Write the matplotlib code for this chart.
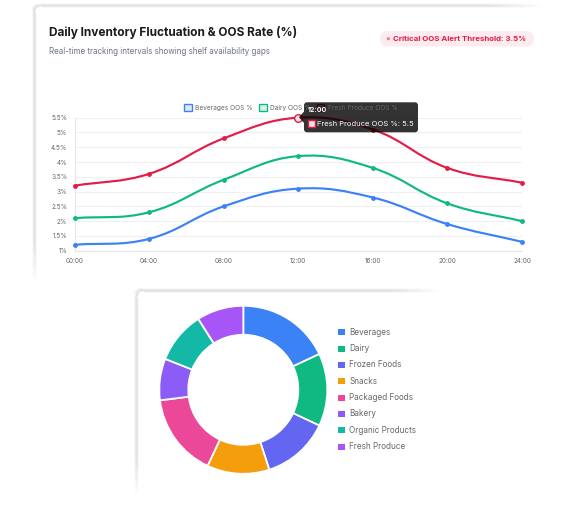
import numpy as np
import matplotlib
matplotlib.use('Agg')
import matplotlib.pyplot as plt
from matplotlib.patches import FancyBboxPatch, Rectangle, Polygon, Circle, PathPatch
from matplotlib.path import Path
from matplotlib.collections import LineCollection

plt.rcParams['font.family'] = ['Inter', 'DejaVu Sans']

# ---------------- data ----------------
hours = [0, 4, 8, 12, 16, 20, 24]
x_tick_labels = ['00:00', '04:00', '08:00', '12:00', '16:00', '20:00', '24:00']
beverages_oos = [1.2, 1.4, 2.5, 3.1, 2.8, 1.9, 1.3]
dairy_oos = [2.1, 2.3, 3.4, 4.2, 3.8, 2.6, 2.0]
fresh_produce_oos = [3.2, 3.6, 4.8, 5.5, 5.1, 3.8, 3.3]
series_names = ['Beverages OOS %', 'Dairy OOS %', 'Fresh Produce OOS %']
y_ticks = [1, 1.5, 2, 2.5, 3, 3.5, 4, 4.5, 5, 5.5]
y_tick_labels = ['1%', '1.5%', '2%', '2.5%', '3%', '3.5%', '4%', '4.5%', '5%', '5.5%']
threshold_label = 'Critical OOS Alert Threshold: 3.5%'
title = 'Daily Inventory Fluctuation & OOS Rate (%)'
subtitle = 'Real-time tracking intervals showing shelf availability gaps'
tooltip_index = 3  # 12:00, Fresh Produce

categories = ['Beverages', 'Dairy', 'Frozen Foods', 'Snacks', 'Packaged Foods',
              'Bakery', 'Organic Products', 'Fresh Produce']
category_share = [18, 14, 13, 12, 16, 8, 10, 9]

# ---------------- style ----------------
line_colors = ['#3b82f6', '#10b981', '#e11d48']
legend_fills = ['#dfe7f5', '#d8efe6', '#f5dde3']
donut_colors = ['#3b82f6', '#10b981', '#6366f1', '#f59e0b', '#ec4899',
                '#8b5cf6', '#14b8a6', '#a855f7']

W, H = 585, 505
fig = plt.figure(figsize=(W / 100, H / 100), dpi=100)
fig.patch.set_facecolor('white')
renderer = fig.canvas.get_renderer()

bg = fig.add_axes([0, 0, 1, 1], zorder=0)
bg.set_xlim(0, W); bg.set_ylim(H, 0); bg.axis('off')
fg = fig.add_axes([0, 0, 1, 1], zorder=10)
fg.set_xlim(0, W); fg.set_ylim(H, 0); fg.axis('off')
fg.patch.set_alpha(0)


def fit_text(ax, x0, x1, y, s, size=8, **kw):
    t = ax.text(x0, y, s, ha='left', va='center', fontsize=size, **kw)
    w = t.get_window_extent(renderer=renderer).width
    t.set_fontsize(size * (x1 - x0) / w)
    return t


def text_size_for(s, width, size=8, **kw):
    t = fig.text(0, 0, s, fontsize=size, **kw)
    w = t.get_window_extent(renderer=renderer).width
    t.remove()
    return size * width / w


def card_edge(ax, x0, y0, x_end, y_end, r=6, fade_a=45, fade_b=45):
    pts = []
    for y in np.linspace(y_end, y0 + r, 200):
        pts.append((x0, y))
    for th in np.linspace(np.pi, 1.5 * np.pi, 20):
        pts.append((x0 + r + r * np.cos(th), y0 + r + r * np.sin(th)))
    for x in np.linspace(x0 + r, x_end, 200):
        pts.append((x, y0))
    pts = np.array(pts)
    seg = np.hypot(np.diff(pts[:, 0]), np.diff(pts[:, 1]))
    s = np.concatenate([[0], np.cumsum(seg)])
    L = s[-1]
    mid = (s[:-1] + s[1:]) / 2
    a = np.clip(np.minimum(mid / fade_a, (L - mid) / fade_b), 0, 1)
    for off, alpha, lw in [(0, 0.13, 1.0), (1.0, 0.07, 1.4), (2.0, 0.035, 1.8)]:
        p = pts - off
        segs = np.stack([p[:-1], p[1:]], axis=1)
        cols = np.zeros((len(segs), 4))
        cols[:, :3] = 0.2
        cols[:, 3] = alpha * a
        ax.add_collection(LineCollection(segs, colors=cols, linewidths=lw, capstyle='butt'))


card_edge(bg, 34.5, 6, 545, 283, fade_a=40, fade_b=55)
card_edge(bg, 137, 290.5, 442, 496, fade_a=35, fade_b=50)

# ---------------- header ----------------
fit_text(bg, 49, 299, 32.5, title, fontweight='bold', color='#1a1a1a')
fit_text(bg, 49, 271, 51.5, subtitle, color='#6b7280')
bg.add_patch(FancyBboxPatch((380, 31), 154, 15.5,
                            boxstyle='round,pad=0,rounding_size=7.75',
                            fc='#fdecef', ec='none'))
bg.add_patch(Circle((388.3, 38.7), 1.6, fc='#f27a94', ec='none'))
fit_text(bg, 393, 527, 38.7, threshold_label, fontweight='bold', color='#e11d48')

# ---------------- line chart ----------------
X0, X1, Y0, Y1 = 74.5, 522, 117.7, 250.7
ax = fig.add_axes([X0 / W, 1 - Y1 / H, (X1 - X0) / W, (Y1 - Y0) / H], zorder=5)
ax.patch.set_alpha(0)
ax.set_xlim(0, 24)
ax.set_ylim(1, 5.5)
sx = (X1 - X0) / 24.0
sy = (Y1 - Y0) / 4.5


def spline_path(xs, ys, t=0.4):
    P = np.column_stack([np.array(xs, float) * sx, np.array(ys, float) * sy])
    n = len(P)
    prev_cp = P.copy(); next_cp = P.copy()
    for i in range(n):
        pr = P[i - 1] if i > 0 else P[i]
        nx = P[i + 1] if i < n - 1 else P[i]
        d01 = np.hypot(*(P[i] - pr)); d12 = np.hypot(*(nx - P[i]))
        tot = d01 + d12
        s01 = d01 / tot if tot else 0; s12 = d12 / tot if tot else 0
        prev_cp[i] = P[i] - t * s01 * (nx - pr)
        next_cp[i] = P[i] + t * s12 * (nx - pr)
    verts = [P[0]]; codes = [Path.MOVETO]
    for i in range(n - 1):
        verts += [next_cp[i], prev_cp[i + 1], P[i + 1]]
        codes += [Path.CURVE4] * 3
    V = np.array(verts); V[:, 0] /= sx; V[:, 1] /= sy
    return Path(V, codes)


all_series = [beverages_oos, dairy_oos, fresh_produce_oos]
for vals, c in zip(all_series, line_colors):
    ax.add_patch(PathPatch(spline_path(hours, vals), fc='none', ec=c, lw=1.55,
                           zorder=3, clip_on=False, capstyle='round'))
    ax.plot(hours, vals, 'o', ms=2.8, color=c, mec=c, mew=0.6, zorder=4, clip_on=False)
ax.plot([hours[tooltip_index]], [fresh_produce_oos[tooltip_index]], 'o', ms=5.5,
        mfc='#fbe3e9', mec=line_colors[2], mew=1.0, zorder=5, clip_on=False)

ax.set_xticks(hours)
ax.set_xticklabels(x_tick_labels)
ax.set_yticks(y_ticks)
ax.set_yticklabels(y_tick_labels)
ax.yaxis.grid(True, color='#f0f0f0', lw=0.8)
ax.set_axisbelow(True)
for sp in ['top', 'right']:
    ax.spines[sp].set_visible(False)
for sp in ['left', 'bottom']:
    ax.spines[sp].set_color('#e6e6e6')
    ax.spines[sp].set_linewidth(0.8)
tick_size = text_size_for('00:00', 18.0)
ax.tick_params(axis='both', length=0, labelsize=tick_size, labelcolor='#666666')
ax.tick_params(axis='y', pad=5.2)
ax.tick_params(axis='x', pad=5.0)

# legend for line chart
leg_size = text_size_for('Beverages OOS %', 56.7)
leg_boxes = [184, 259.3, 316.7]
for bx, name, c, f in zip(leg_boxes, series_names, line_colors, legend_fills):
    fg.add_patch(Rectangle((bx, 103.8), 7.5, 7.5, fc=f, ec=c, lw=1.0))
    fg.text(bx + 11, 107.6, name, ha='left', va='center', fontsize=leg_size, color='#666666')

# tooltip
fg.add_patch(FancyBboxPatch((304, 102.3), 114, 30,
                            boxstyle='round,pad=0,rounding_size=3',
                            fc='black', ec='none', alpha=0.8))
fg.add_patch(Polygon([(304, 111.5), (298.8, 117.3), (304, 123)], closed=True,
                     fc='black', ec='none', alpha=0.8))
fit_text(fg, 307.7, 326.7, 110.3, x_tick_labels[tooltip_index], fontweight='bold', color='white')
fg.add_patch(Rectangle((308, 120.2), 7, 7, fc='#e6e6e6', ec=line_colors[2], lw=1.0))
fit_text(fg, 317, 414, 124.2,
         f'{series_names[2]}: {fresh_produce_oos[tooltip_index]}', color='white')

# ---------------- donut ----------------
cx, cy, R = 243.3, 389.8, 84
ax2 = fig.add_axes([(cx - R) / W, 1 - (cy + R) / H, 2 * R / W, 2 * R / H], zorder=5)
ax2.pie(category_share, colors=donut_colors, startangle=90, counterclock=False,
        radius=1, wedgeprops=dict(width=0.345, edgecolor='white', linewidth=1.3))
ax2.set_xlim(-1, 1); ax2.set_ylim(-1, 1)
ax2.set_aspect('equal')
ax2.axis('off')

dl_size = text_size_for('Beverages', 41)
for i, (name, c) in enumerate(zip(categories, donut_colors)):
    yy = 332.3 + i * 16.34
    bg.add_patch(Rectangle((338.3, yy - 3.1), 6.2, 6.2, fc=c, ec='none'))
    bg.text(349.3, yy, name, ha='left', va='center', fontsize=dl_size, color='#666666')

fig.savefig('out.png', dpi=100, facecolor='white')
